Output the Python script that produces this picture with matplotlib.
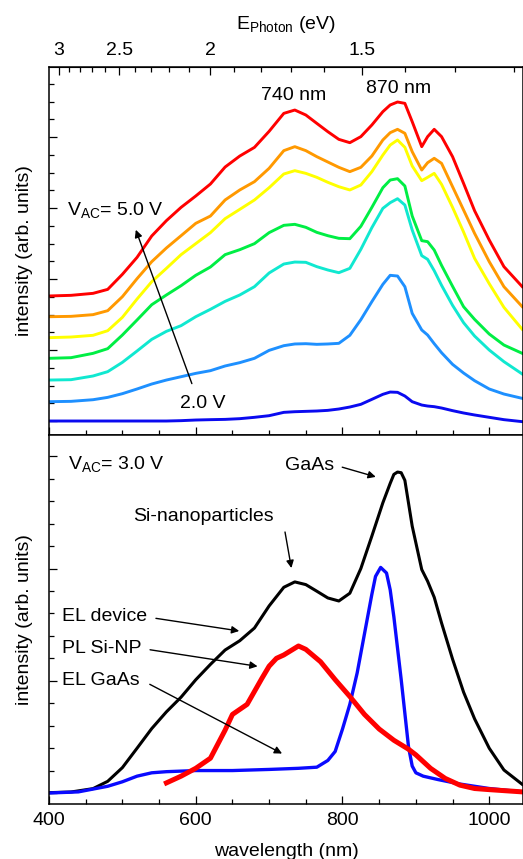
import numpy as np
import matplotlib
matplotlib.use("Agg")
import matplotlib.pyplot as plt
from matplotlib.ticker import MultipleLocator, FixedLocator, FuncFormatter

plt.rcParams['font.family'] = ['Liberation Sans', 'DejaVu Sans']
plt.rcParams['font.size'] = 14
plt.rcParams['mathtext.fontset'] = 'custom'
plt.rcParams['mathtext.rm'] = 'Liberation Sans'
plt.rcParams['mathtext.it'] = 'Liberation Sans:italic'

# ---- top panel: EL spectra for increasing AC voltage (2.0 V ... 5.0 V)
top_wl = [400, 430, 460, 480, 500, 520, 540, 560, 580, 600, 620, 640, 660, 680, 700,
          720, 735, 750, 765, 780, 795, 810, 825, 840, 855, 865, 875, 885, 895, 908,
          916, 925, 935, 950, 965, 980, 1000, 1020, 1045]
el_2v0 = [0.000, 0.000, 0.000, 0.000, 0.000, 0.000, 0.000, 0.000, 0.005, 0.014, 0.019, 0.023, 0.033,
          0.052, 0.075, 0.122, 0.131, 0.136, 0.141, 0.150, 0.169, 0.197, 0.235, 0.305, 0.376,
          0.408, 0.404, 0.352, 0.272, 0.225, 0.211, 0.202, 0.183, 0.146, 0.113, 0.085, 0.052,
          0.019, -0.009]
el_2v5 = [0.272, 0.277, 0.300, 0.333, 0.385, 0.451, 0.521, 0.577, 0.624, 0.671, 0.709, 0.775, 0.822,
          0.883, 0.995, 1.061, 1.085, 1.089, 1.080, 1.085, 1.094, 1.207, 1.427, 1.681, 1.925,
          2.052, 2.042, 1.892, 1.516, 1.282, 1.211, 1.089, 0.962, 0.798, 0.676, 0.568, 0.451,
          0.380, 0.319]
el_3v0 = [0.577, 0.582, 0.634, 0.695, 0.826, 0.986, 1.150, 1.263, 1.343, 1.469, 1.573, 1.685, 1.775,
          1.892, 2.085, 2.211, 2.239, 2.235, 2.174, 2.127, 2.089, 2.150, 2.418, 2.723, 2.995,
          3.075, 3.131, 3.042, 2.690, 2.329, 2.277, 2.117, 1.911, 1.629, 1.385, 1.197, 1.000,
          0.836, 0.662]
el_3v5 = [0.883, 0.892, 0.953, 1.019, 1.211, 1.423, 1.638, 1.775, 1.906, 2.052, 2.169, 2.343, 2.413,
          2.498, 2.653, 2.756, 2.770, 2.728, 2.657, 2.610, 2.573, 2.568, 2.742, 3.009, 3.286,
          3.394, 3.413, 3.310, 2.887, 2.540, 2.526, 2.408, 2.192, 1.897, 1.610, 1.432, 1.225,
          1.070, 0.953]
el_4v0 = [1.174, 1.183, 1.207, 1.272, 1.460, 1.718, 1.962, 2.150, 2.343, 2.498, 2.653, 2.850, 2.981,
          3.113, 3.286, 3.479, 3.526, 3.488, 3.432, 3.362, 3.300, 3.254, 3.324, 3.512, 3.746,
          3.887, 3.958, 3.854, 3.592, 3.385, 3.432, 3.488, 3.333, 3.009, 2.662, 2.291, 1.934,
          1.601, 1.291]
el_4v5 = [1.469, 1.474, 1.498, 1.554, 1.751, 2.005, 2.244, 2.437, 2.610, 2.784, 2.887, 3.113, 3.254,
          3.371, 3.559, 3.808, 3.864, 3.808, 3.723, 3.648, 3.573, 3.512, 3.573, 3.732, 3.958,
          4.061, 4.108, 4.052, 3.793, 3.535, 3.638, 3.700, 3.629, 3.300, 2.972, 2.643, 2.244,
          1.892, 1.610]
el_5v0 = [1.761, 1.770, 1.798, 1.854, 2.066, 2.305, 2.606, 2.822, 3.009, 3.169, 3.338, 3.577, 3.732,
          3.854, 4.080, 4.333, 4.380, 4.310, 4.192, 4.075, 3.967, 3.920, 4.005, 4.169, 4.357,
          4.451, 4.493, 4.474, 4.216, 3.864, 4.005, 4.108, 4.005, 3.723, 3.347, 2.962, 2.549,
          2.174, 1.892]
top_series = [el_2v0, el_2v5, el_3v0, el_3v5, el_4v0, el_4v5, el_5v0]
top_colors = ['#0a0af0', '#1e90ff', '#10e8d0', '#00ee44', '#ffff00', '#ff9900', '#ff0000']

# ---- bottom panel: V_AC = 3.0 V
dev_wl = [400, 430, 460, 480, 500, 520, 540, 560, 580, 600, 620, 640, 660, 680, 700,
          720, 735, 750, 765, 780, 795, 810, 825, 840, 855, 865, 870, 875, 880, 885, 895,
          908, 916, 925, 935, 950, 965, 980, 1000, 1020, 1045]
el_device = [0.003, 0.009, 0.039, 0.104, 0.226, 0.399, 0.574, 0.723, 0.854, 1.009, 1.146, 1.274,
             1.357, 1.470, 1.667, 1.833, 1.881, 1.857, 1.798, 1.738, 1.711, 1.780, 2.000, 2.289,
             2.586, 2.759, 2.839, 2.860, 2.854, 2.786, 2.378, 1.991, 1.887, 1.744, 1.515, 1.193,
             0.899, 0.661, 0.399, 0.205, 0.077]

pl_wl = [560, 580, 600, 620, 640, 650, 670, 690, 700, 710, 720, 740, 750, 770, 790, 810,
         830, 850, 870, 890, 900, 920, 940, 960, 980, 1000, 1045]
pl_sinp = [0.09, 0.15, 0.22, 0.31, 0.56, 0.70, 0.79, 1.02, 1.13, 1.20, 1.23, 1.31, 1.28, 1.17,
           1.01, 0.86, 0.70, 0.57, 0.47, 0.39, 0.34, 0.22, 0.13, 0.07, 0.04, 0.03, 0.01]

gaas_wl = [400, 440, 480, 500, 520, 540, 560, 600, 650, 700, 740, 765, 780, 790, 800, 810, 820,
           830, 840, 845, 852, 860, 865, 870, 875, 880, 885, 890, 895, 900, 910, 930, 960,
           1000, 1045]
el_gaas = [0.00, 0.01, 0.06, 0.10, 0.15, 0.18, 0.19, 0.20, 0.20, 0.21, 0.22, 0.23, 0.29, 0.37,
           0.57, 0.79, 1.07, 1.42, 1.77, 1.93, 2.01, 1.96, 1.81, 1.57, 1.29, 1.01, 0.71, 0.41,
           0.24, 0.18, 0.15, 0.12, 0.08, 0.04, 0.01]

W, H = 523, 859
fig = plt.figure(figsize=(W / 100, H / 100), dpi=100)
ax1 = fig.add_axes([49 / W, 1 - 435 / H, 474 / W, 368 / H])
ax2 = fig.add_axes([49 / W, 1 - 804 / H, 474 / W, 369 / H])

for ax in (ax1, ax2):
    ax.set_xlim(400, 1046)
    ax.xaxis.set_major_locator(MultipleLocator(200))
    ax.xaxis.set_minor_locator(MultipleLocator(50))
    ax.yaxis.set_major_locator(MultipleLocator(1))
    ax.tick_params(which='both', direction='in', top=False, right=False,
                   labelleft=False, width=0.9)
    ax.tick_params(which='major', length=6)
    ax.tick_params(which='minor', length=3.5)
    for sp in ax.spines.values():
        sp.set_linewidth(1.1)
    ax.set_ylabel("intensity (arb. units)")
    ax.yaxis.set_label_coords(-0.034, 0.5)

# top panel
for ys, c in zip(top_series, top_colors):
    ax1.plot(top_wl, ys, color=c, lw=2.1, solid_joinstyle='round')
ax1.set_ylim(-0.197, 4.986)
ax1.yaxis.set_minor_locator(MultipleLocator(0.25))
ax1.tick_params(labelbottom=False)


def nm2ev(x):
    x = np.asarray(x, dtype=float)
    with np.errstate(divide='ignore'):
        return 1239.84 / x


secax = ax1.secondary_xaxis('top', functions=(nm2ev, nm2ev))
secax.xaxis.set_major_locator(FixedLocator([3.0, 2.5, 2.0, 1.5]))
secax.xaxis.set_minor_locator(FixedLocator(np.round(np.arange(1.2, 3.15, 0.1), 2)))
secax.xaxis.set_major_formatter(FuncFormatter(lambda v, p: f"{v:g}"))
secax.tick_params(which='both', direction='in', width=0.9, pad=6)
secax.tick_params(which='major', length=6)
secax.tick_params(which='minor', length=3.5)
secax.set_xlabel(r"E$_{\mathrm{Photon}}$ (eV)", labelpad=9)

ax1.text(734, 4.59, "740 nm", ha='center', va='center')
ax1.text(877, 4.69, "870 nm", ha='center', va='center')
ax1.text(424, 2.97, r"V$_{\mathrm{AC}}$= 5.0 V", ha='left', va='center')
ax1.text(579, 0.25, "2.0 V", ha='left', va='center')
ax1.annotate('', xy=(517, 2.73), xytext=(596, 0.49),
             arrowprops=dict(arrowstyle='-|>', lw=1.0, color='black', mutation_scale=11))

# bottom panel
ax2.plot(dev_wl, el_device, color='black', lw=2.2, solid_joinstyle='round')
ax2.plot(gaas_wl, el_gaas, color='#0a0aff', lw=2.4, solid_joinstyle='round')
ax2.plot(pl_wl, pl_sinp, color='#ff0000', lw=3.6, solid_joinstyle='round')
ax2.set_ylim(-0.098, 3.19)
ax2.yaxis.set_minor_locator(MultipleLocator(0.2))
ax2.tick_params(which='major', axis='x', pad=6)
ax2.set_xlabel("wavelength (nm)", labelpad=10)

ax2.text(426, 2.93, r"V$_{\mathrm{AC}}$= 3.0 V", ha='left', va='center')
ax2.text(515, 2.46, "Si-nanoparticles", ha='left', va='center')
ax2.text(722, 2.92, "GaAs", ha='left', va='center')
ax2.text(418, 1.57, "EL device", ha='left', va='center')
ax2.text(418, 1.29, "PL Si-NP", ha='left', va='center')
ax2.text(418, 1.00, "EL GaAs", ha='left', va='center')

arrows = [((721, 2.35), (731, 1.98)),
          ((796, 2.91), (849, 2.81)),
          ((542, 1.56), (663, 1.44)),
          ((534, 1.28), (688, 1.125)),
          ((534, 0.98), (721, 0.34))]
for start, end in arrows:
    ax2.annotate('', xy=end, xytext=start,
                 arrowprops=dict(arrowstyle='-|>', lw=1.0, color='black', mutation_scale=11))

fig.savefig("out.png", dpi=100)
